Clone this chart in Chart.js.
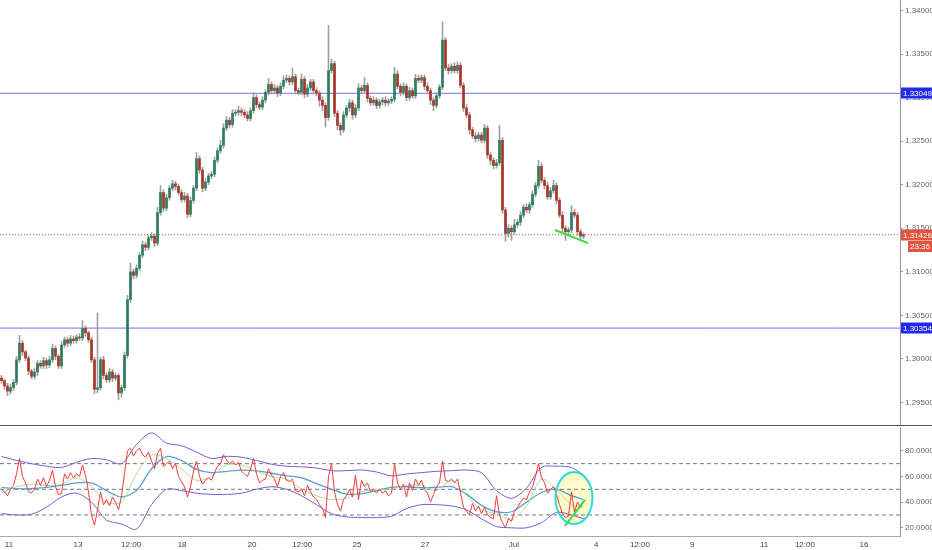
<!DOCTYPE html>
<html><head><meta charset="utf-8">
<script src="https://cdn.jsdelivr.net/npm/chart.js@4.4.1/dist/chart.umd.min.js"></script>
<style>
html,body{margin:0;padding:0;background:#fff;}
#wrap{position:relative;width:932px;height:550px;overflow:hidden;background:#fff;}
.pane{position:absolute;left:0;width:932px;}
</style></head><body>
<div id="wrap">
<div class="pane" style="top:0;height:426px"><canvas id="c1"></canvas></div>
<div class="pane" style="top:427px;height:123px"><canvas id="c2"></canvas></div>
</div>
<script>
// ---------- DATA ----------
const firstOpen = 1.2978;
const closes = [
1.2975,1.2969,1.2963,1.2967,1.2973,1.2999,1.3018,1.3008,1.3001,1.2986,1.2980,1.2985,1.2995,1.2992,1.2998,
1.2993,1.2999,1.3012,1.3003,1.2992,1.3016,1.3022,1.3018,1.3023,1.3021,1.3025,1.3024,1.3035,1.3030,1.3022,
1.2999,1.2965,1.2967,1.2999,1.2981,1.2976,1.2985,1.2978,1.2981,1.2961,1.2967,1.3004,1.3068,1.3100,1.3096,
1.3104,1.3119,1.3131,1.3128,1.3139,1.3141,1.3133,1.3168,1.3191,1.3173,1.3185,1.3196,1.3201,1.3198,1.3191,
1.3183,1.3187,1.3166,1.3182,1.3196,1.3230,1.3217,1.3196,1.3203,1.3210,1.3212,1.3228,1.3239,1.3245,1.3265,
1.3274,1.3269,1.3282,1.3283,1.3285,1.3283,1.3280,1.3276,1.3285,1.3300,1.3292,1.3289,1.3297,1.3306,1.3315,
1.3308,1.3311,1.3305,1.3313,1.3320,1.3322,1.3318,1.3324,1.3308,1.3306,1.3321,1.3304,1.3311,1.3318,1.3308,
1.3305,1.3297,1.3291,1.3277,1.3331,1.3339,1.3282,1.3268,1.3263,1.3280,1.3288,1.3294,1.3280,1.3288,1.3311,
1.3308,1.3314,1.3299,1.3294,1.3297,1.3291,1.3295,1.3297,1.3294,1.3296,1.3298,1.3327,1.3313,1.3306,1.3313,
1.3300,1.3308,1.3302,1.3322,1.3320,1.3323,1.3313,1.3308,1.3297,1.3291,1.3302,1.3312,1.3366,1.3334,1.3331,
1.3336,1.3331,1.3337,1.3314,1.3288,1.3280,1.3263,1.3256,1.3253,1.3257,1.3251,1.3265,1.3234,1.3228,1.3222,
1.3225,1.3251,1.3171,1.3144,1.3150,1.3146,1.3154,1.3157,1.3165,1.3174,1.3171,1.3177,1.3189,1.3199,1.3221,
1.3205,1.3199,1.3186,1.3193,1.3199,1.3182,1.3165,1.3150,1.3146,1.3148,1.3168,1.3165,1.3146,1.3141,1.31426];
const wickUpPips = [
3,2,3,4,3,4,9,3,2,3,2,4,3,3,4, 3,4,5,3,2,4,3,3,4,3,3,4,9,3,2,
3,3,86,3,4,3,4,3,3,2,3,4,5,10,3, 4,3,4,3,3,4,3,6,8,3,4,3,4,3,3,
3,4,3,4,3,7,3,3,4,3,3,4,3,6,5, 4,3,4,3,5,3,3,4,3,6,3,3,4,3,7,
3,4,3,4,5,4,3,10,3,3,6,3,4,3,3, 3,3,4,3,52,5,3,3,3,4,3,4,3,4,5,
3,9,3,3,4,3,3,3,4,3,3,8,4,3,4, 3,4,3,5,4,3,3,4,3,3,4,3,21,3,4,
3,4,4,3,3,4,3,3,4,3,3,4,3,3,3, 4,17,3,3,4,3,6,3,4,3,4,3,4,4,7,
4,3,4,4,6,3,3,4,3,3,8,4,3,3,2];
const wickDnPips = [
3,4,5,3,3,3,3,4,3,4,3,3,4,3,3, 4,3,3,4,3,3,3,4,3,3,3,3,3,4,3,
3,5,4,3,4,3,3,4,3,8,5,3,3,3,4, 3,3,3,4,3,3,4,3,3,4,3,3,3,4,3,
3,3,4,3,3,3,4,4,3,3,3,3,3,3,3, 3,4,3,3,3,4,3,3,3,3,4,3,3,3,3,
4,3,4,3,3,3,4,3,4,3,3,4,3,3,4, 3,7,6,11,3,3,4,5,6,3,3,4,5,3,3,
3,3,4,3,3,4,3,3,4,3,3,3,3,4,3, 4,3,3,3,3,3,4,3,5,6,3,3,3,3,4,
3,3,3,3,4,3,5,3,4,3,3,3,4,5,4, 3,3,4,9,4,10,3,3,4,3,3,4,3,3,3,
3,4,3,3,3,4,3,5,10,4,3,3,4,4,3];
const rsiValues = [
50,48,45,50,53,62,74,60,55,48,47,50,58,53,59, 52,57,65,52,46,47,62,58,63,59,62,60,69,61,48,
30,22,34,48,38,42,37,44,40,34,45,62,80,82,76, 80,82,77,75,79,72,66,78,82,68,70,72,66,70,60,
56,52,44,52,64,72,60,54,57,59,57,63,68,70,77, 73,70,72,69,71,64,62,60,66,74,62,55,57,58,66,
61,58,52,60,63,57,56,58,49,48,50,45,53,48,44, 42,38,35,28,60,70,48,38,33,42,45,50,44,61,42,
57,52,55,48,50,47,50,47,49,45,47,70,55,50,54, 44,55,49,58,53,57,50,47,40,46,52,55,72,57,56,
58,55,58,47,36,33,30,39,33,37,31,36,30,28,27, 45,30,24,20,27,25,33,36,40,43,42,48,52,60,70,
59,55,47,50,52,46,38,31,28,29,48,32,40,36,41];
const bandIdx = [0,5,10,15,20,25,30,35,40,45,50,55,60,65,70,75,80,85,90,95,100,105,110,115,120,125,130,135,140,145,150,155,160,165,170,175,180,185,190,194];
const bbUpper = [75.5,72.5,70,68,67,71,74,73,70,85,94,86,84,79,74,75.7,75,72.5,69.5,68,67.5,66.6,64.5,64.5,65,63.5,60.5,62,63,64,64.5,65,63,49,43,51,67,68,67,61];
const bbMiddle = [51.5,50.5,50.5,51.5,53,55,55,49,44,49,66,75.5,72.5,65.5,63,64,65,64.3,62.5,60.5,59,54.5,50,46.3,46.5,49,51.5,52,51.2,51.5,52,46.2,37.5,32.5,32.5,40,47.5,50,45,42];
const bbLower = [31,30,30.5,36,44,47,40,26,23,19,38,50,49,47,46,46,47,50,52,50,45,38,31,28.5,28,28,29,35,38,38,37,34,27,21,20,20,24,32,30,27];
const rsiMA = [47,52,54,53,54,59,52,40,40,62,77,74,66,57,60,69,69,64,60,58,50,45,42,43,48,50,50,53,53,49,57,45,34,31,27,37,58,50,38,36];
const hLevels = [1.33049, 1.30354];
const lastPrice = 1.31426;
const lastTimeLabel = '23:36';
const rsiLevels = [70, 50, 30];
const priceTicks = [1.295,1.300,1.305,1.310,1.315,1.320,1.325,1.330,1.335,1.340];
const rsiTicks = [20,40,60,80];
const timeTickSlots = [3,26,43.7,60.7,84,100.7,119,141.7,171.3,198.7,213.3,230.7,254.7,268.3,288];
const timeTickLabels = ['11','13','12:00','18','20','12:00','25','27','Jul','4','12:00','9','11','12:00','16'];
const trendMain = [[185,1.3148],[196,1.3133]];
const trendRsi = [[188.3,21.4],[195,41.7]];
const ellipseRsi = [191.3,43.2];

// ---------- BUILD ----------
const PIP = 0.0001;
const SLOTS = 300;
const opens = closes.map((c,i)=> i===0 ? firstOpen : closes[i-1]);
const highs = closes.map((c,i)=> Math.max(opens[i],c) + wickUpPips[i]*PIP);
const lows  = closes.map((c,i)=> Math.min(opens[i],c) - wickDnPips[i]*PIP);
const slot = i => i + 0.5;
const UP = '#2c7d5e', DOWN = '#a8342b';

Chart.defaults.font.family = "'Liberation Sans', Arial, sans-serif";
Chart.defaults.font.size = 8;
Chart.defaults.color = '#555';

const hLine = (v,color,dash) => ({type:'line', data:[{x:0,y:v},{x:SLOTS,y:v}], borderColor:color, borderWidth:1, borderDash:dash||[], pointRadius:0, order:5});

const priceLabelPlugin = {
  id:'priceLabels',
  afterDraw(chart){
    const {ctx, chartArea, scales:{y}} = chart;
    ctx.save();
    ctx.fillStyle = '#555';
    ctx.fillRect(0, chart.height-1, chart.width, 1);
    ctx.font = "8px 'Liberation Sans', Arial, sans-serif";
    ctx.textBaseline = 'middle'; ctx.textAlign = 'left';
    const box = (v, color, text) => {
      const yy = Math.round(y.getPixelForValue(v));
      ctx.fillStyle = color;
      ctx.fillRect(chartArea.right+1, yy-5.5, chart.width-chartArea.right-1, 11);
      ctx.fillStyle = '#fff';
      ctx.fillText(text, chartArea.right+3, yy+0.5);
      return yy;
    };
    hLevels.forEach(v => box(v, '#1f2be8', v.toFixed(5)));
    const yy = box(lastPrice, '#e0553f', lastPrice.toFixed(5));
    ctx.fillStyle = '#e0553f';
    ctx.fillRect(chartArea.right+8, yy+6, chart.width-chartArea.right-8, 11);
    ctx.fillStyle = '#fff';
    ctx.fillText(lastTimeLabel, chartArea.right+10, yy+12);
    ctx.restore();
  }
};

new Chart(document.getElementById('c1'), {
  type:'bar',
  data:{datasets:[
    hLine(hLevels[0],'rgba(95,95,255,0.9)'),
    hLine(hLevels[1],'rgba(95,95,255,0.9)'),
    hLine(lastPrice,'#e0553f',[1,2]),
    {type:'bar', data: closes.map((c,i)=>({x:slot(i), y:[lows[i],highs[i]]})), backgroundColor:'#a0a0a0', barThickness:1, grouped:false, order:3},
    {type:'bar', data: closes.map((c,i)=>({x:slot(i), y:[opens[i],c]})),
      backgroundColor: ctx => closes[ctx.dataIndex] >= opens[ctx.dataIndex] ? UP : DOWN,
      barThickness:2, minBarLength:1, grouped:false, order:2},
    {type:'line', data: trendMain.map(p=>({x:p[0],y:p[1]})), borderColor:'#3ddc3d', borderWidth:2, pointRadius:0, order:1}
  ]},
  options:{
    responsive:true, maintainAspectRatio:false, animation:false,
    layout:{padding:0, autoPadding:false},
    plugins:{legend:{display:false}, tooltip:{enabled:false}},
    scales:{
      x:{type:'linear', min:0, max:SLOTS, offset:false, display:false,
         afterFit: s => { s.paddingLeft = 0; s.paddingRight = 0; }},
      y:{position:'right', min:1.2923, max:1.3412,
         afterBuildTicks: s => { s.ticks = priceTicks.map(v=>({value:v})); },
         afterFit: s => { s.width = 32; s.paddingTop = 0; s.paddingBottom = 0; },
         ticks:{callback: v => Number(v).toFixed(5), padding:2, color:'#666', font:{size:8}},
         grid:{drawOnChartArea:false, drawTicks:true, tickLength:3, color:'#999'},
         border:{display:true, color:'#999'}}
    }
  },
  plugins:[priceLabelPlugin]
});

// ellipse images
function ellipseImg(fill, stroke){
  const c = document.createElement('canvas'); c.width = 42; c.height = 56;
  const g = c.getContext('2d');
  g.beginPath(); g.ellipse(21,28,18.5,26,0,0,Math.PI*2);
  if (fill){ g.fillStyle = fill; g.fill(); }
  if (stroke){ g.lineWidth = 2; g.strokeStyle = stroke; g.stroke(); }
  return c;
}
const ellFill = ellipseImg('rgba(255,245,160,0.55)', null);
const ellStroke = ellipseImg(null, '#27d9de');

const bandSeries = arr => arr.map((v,k)=>({x:slot(bandIdx[k]), y:v}));
const lvl = v => ({type:'line', data:[{x:0,y:v},{x:SLOTS,y:v}], borderColor:'#777', borderWidth:1, borderDash:[4,3], pointRadius:0, order:9});

new Chart(document.getElementById('c2'), {
  type:'line',
  data:{datasets:[
    {data:[{x:ellipseRsi[0],y:ellipseRsi[1]}], pointStyle:ellFill, pointRadius:20, showLine:false, order:12},
    ...rsiLevels.map(lvl),
    {data:bandSeries(bbUpper), borderColor:'#6a62d8', borderWidth:1, pointRadius:0, tension:0.3, order:6},
    {data:bandSeries(bbLower), borderColor:'#6a62d8', borderWidth:1, pointRadius:0, tension:0.3, order:6},
    {data:bandSeries(bbMiddle), borderColor:'#58a2d2', borderWidth:1.3, pointRadius:0, tension:0.3, order:5},
    {data:bandSeries(rsiMA), borderColor:'rgba(170,215,150,0.9)', borderWidth:1, pointRadius:0, tension:0.3, order:4},
    {data:rsiValues.map((v,i)=>({x:slot(i), y:v})), borderColor:'#ef3b3b', borderWidth:1, pointRadius:0, order:3},
    {data:[{x:ellipseRsi[0],y:ellipseRsi[1]}], pointStyle:ellStroke, pointRadius:20, showLine:false, order:2},
    {data:trendRsi.map(p=>({x:p[0],y:p[1]})), borderColor:'#3ddc3d', borderWidth:2, pointRadius:0, order:1}
  ]},
  options:{
    responsive:true, maintainAspectRatio:false, animation:false,
    layout:{padding:0, autoPadding:false},
    plugins:{legend:{display:false}, tooltip:{enabled:false}},
    scales:{
      x:{type:'linear', min:0, max:SLOTS, offset:false,
         afterBuildTicks: s => { s.ticks = timeTickSlots.map(v=>({value:v})); },
         afterFit: s => { s.height = 14; s.paddingLeft = 0; s.paddingRight = 0; },
         ticks:{callback:(v,i)=>timeTickLabels[i], autoSkip:false, maxRotation:0, padding:4, color:'#444', font:{size:8}},
         grid:{drawOnChartArea:false, drawTicks:false},
         border:{display:true, color:'#aaa'}},
      y:{position:'right', min:13.6, max:98.56,
         afterBuildTicks: s => { s.ticks = rsiTicks.map(v=>({value:v})); },
         afterFit: s => { s.width = 32; s.paddingTop = 0; s.paddingBottom = 0; },
         ticks:{callback: v => Number(v).toFixed(4), padding:2, color:'#666', font:{size:8}},
         grid:{drawOnChartArea:false, drawTicks:true, tickLength:3, color:'#999'},
         border:{display:true, color:'#999'}}
    }
  }
});
</script>
</body></html>
